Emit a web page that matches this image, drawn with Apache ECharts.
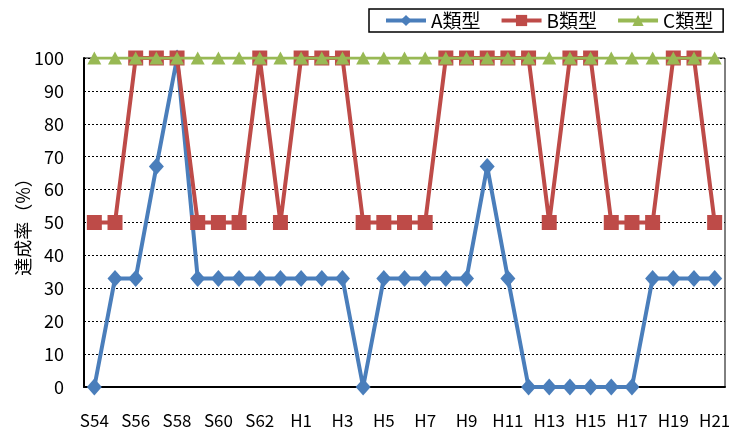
<!DOCTYPE html>
<html>
<head>
<meta charset="utf-8">
<script src="https://cdn.jsdelivr.net/npm/echarts@6/dist/echarts.min.js"></script>
<style>
  html, body { margin: 0; padding: 0; background: #fff; }
  #chart { width: 729px; height: 432px; }
</style>
</head>
<body>
<div id="chart"></div>
<script>
// Fiscal years (Showa 54 to Heisei 21)
const years = ['S54','S55','S56','S57','S58','S59','S60','S61','S62','S63',
  'H1','H2','H3','H4','H5','H6','H7','H8','H9','H10',
  'H11','H12','H13','H14','H15','H16','H17','H18','H19','H20','H21'];

// Achievement rate (%) by type
const typeA = [0,33,33,67,100,33,33,33,33,33,
  33,33,33,0,33,33,33,33,33,67,
  33,0,0,0,0,0,0,33,33,33,33];
const typeB = [50,50,100,100,100,50,50,50,100,50,
  100,100,100,50,50,50,50,100,100,100,
  100,100,50,100,100,50,50,50,100,100,50];
const typeC = [100,100,100,100,100,100,100,100,100,100,
  100,100,100,100,100,100,100,100,100,100,
  100,100,100,100,100,100,100,100,100,100,100];

const seriesNames = ['A類型','B類型','C類型'];
const yTicks = { min: 0, max: 100, step: 10 };

const FONT = '"Noto Sans CJK JP", "Noto Sans", sans-serif';
const chart = echarts.init(document.getElementById('chart'), null, { renderer: 'canvas' });

chart.setOption({
  animation: false,
  backgroundColor: '#fff',
  textStyle: { fontFamily: FONT, color: '#000' },
  grid: {
    left: 84, right: 4, top: 58, bottom: 45,
    outerBoundsMode: 'none',
    containLabel: false,
    show: true, borderColor: '#000', borderWidth: 1, backgroundColor: 'transparent'
  },
  legend: {
    data: seriesNames,
    top: 9, left: 369,
    width: 353,
    padding: [2, 10, 2, 15],
    borderColor: '#000', borderWidth: 1.5,
    itemWidth: 40, itemHeight: 14, itemGap: 19,
    lineStyle: { width: 4 },
    textStyle: { fontSize: 19, fontFamily: FONT, color: '#000' }
  },
  xAxis: {
    type: 'category',
    data: years,
    boundaryGap: true,
    axisLine: { lineStyle: { color: '#000', width: 2 } },
    axisTick: { inside: true, length: 6, interval: 0, lineStyle: { color: '#000', width: 1 } },
    axisLabel: { interval: 1, fontSize: 17, color: '#000', margin: 25, fontFamily: FONT },
    splitLine: { show: false }
  },
  yAxis: {
    type: 'value',
    min: yTicks.min, max: yTicks.max, interval: yTicks.step,
    name: '達成率（%）',
    nameLocation: 'middle',
    nameGap: 52,
    nameMoveOverlap: false,
    nameRotate: 90,
    nameTextStyle: { fontSize: 18, color: '#000', fontFamily: FONT },
    axisLine: { show: true, lineStyle: { color: '#000', width: 2 } },
    axisTick: { show: false },
    axisLabel: { fontSize: 18, color: '#000', margin: 20, fontFamily: FONT },
    splitLine: { show: true, lineStyle: { color: '#000', type: [2, 2], width: 1 } }
  },
  series: [
    {
      name: seriesNames[0], type: 'line', data: typeA,
      symbol: 'diamond', symbolSize: [15, 17], showAllSymbol: true,
      lineStyle: { color: '#4A7EBB', width: 4 },
      itemStyle: { color: '#4A7EBB' },
      z: 2
    },
    {
      name: seriesNames[1], type: 'line', data: typeB,
      symbol: 'rect', symbolSize: 15, showAllSymbol: true,
      lineStyle: { color: '#BE4B48', width: 4 },
      itemStyle: { color: '#BE4B48' },
      z: 3
    },
    {
      name: seriesNames[2], type: 'line', data: typeC,
      symbol: 'triangle', symbolSize: [14, 13], showAllSymbol: true,
      lineStyle: { color: '#98B954', width: 3 },
      itemStyle: { color: '#98B954' },
      z: 4
    }
  ]
});
</script>
</body>
</html>
